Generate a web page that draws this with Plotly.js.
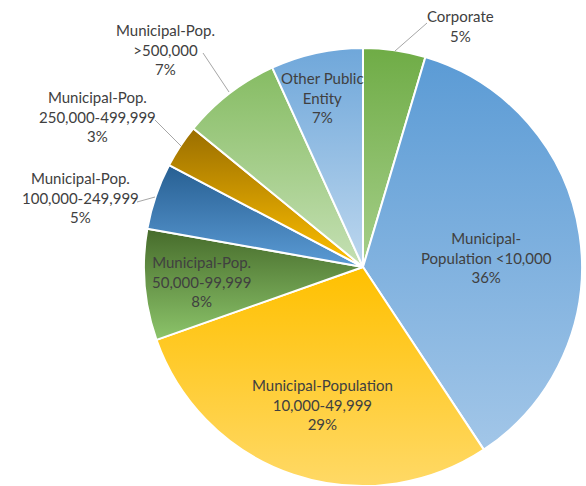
<!DOCTYPE html>
<html>
<head>
<meta charset="utf-8">
<script src="https://cdn.plot.ly/plotly-3.0.1.min.js"></script>
<style>html,body{margin:0;padding:0;background:#fff;}#chart{width:586px;height:486px;}</style>
</head>
<body>
<div id="chart"></div>
<script>
// ---- data ----
var categories = ['Corporate', 'Municipal-Population <10,000', 'Municipal-Population 10,000-49,999',
  'Municipal-Pop. 50,000-99,999', 'Municipal-Pop. 100,000-249,999', 'Municipal-Pop. 250,000-499,999',
  'Municipal-Pop. >500,000', 'Other Public Entity'];
var labelText = ['Corporate', 'Municipal-<br>Population &lt;10,000', 'Municipal-Population<br>10,000-49,999',
  'Municipal-Pop.<br>50,000-99,999', 'Municipal-Pop.<br>100,000-249,999', 'Municipal-Pop.<br>250,000-499,999',
  'Municipal-Pop.<br>&gt;500,000', 'Other Public<br>Entity'];
var values = [4.6, 36.1, 28.9, 8.2, 4.9, 3.2, 7.3, 6.8];

// ---- styles ----
var gradTop    = ['#6fac46', '#5b9bd5', '#ffc000', '#466b2b', '#275f92', '#9a6e00', '#86bc63', '#6fa7da'];
var gradBottom = ['#a6cf8a', '#a2c6e8', '#ffd966', '#8cc46a', '#5b9bd5', '#ffc000', '#c5e0b4', '#bdd7ee'];
var midColors  = ['#8bbf68', '#7fb1df', '#ffcd33', '#69984a', '#417db3', '#cd9700', '#a6ce8b', '#96bfe4'];
// label block centres (pixels) and leader lines (pixels)
var labelPos = [[460, 26], [486, 257], [322, 404], [201, 281], [80, 197], [97, 117], [165, 50], [322, 98]];
var leaders = [[427, 23, 395, 51], null, null, null, [137, 202, 155, 197], [155, 120, 181, 146], [203, 53, 229, 92], null];

var W = 586, H = 486;
var total = values.reduce(function (a, b) { return a + b; }, 0);

var annotations = categories.map(function (c, i) {
  return {
    xref: 'paper', yref: 'paper',
    x: labelPos[i][0] / W, y: 1 - labelPos[i][1] / H,
    xanchor: 'center', yanchor: 'middle',
    text: labelText[i] + '<br>' + Math.round(values[i] / total * 100) + '%',
    showarrow: false,
    font: {family: 'Lato, "Open Sans", sans-serif', size: 15, color: '#404040'}
  };
});
var shapes = [];
leaders.forEach(function (l) {
  if (!l) return;
  shapes.push({type: 'line', xref: 'paper', yref: 'paper',
    x0: l[0] / W, y0: 1 - l[1] / H, x1: l[2] / W, y1: 1 - l[3] / H,
    line: {color: '#a6a6a6', width: 1}});
});

var cx = 363, cy = 267, r = 219;
var trace = {
  type: 'pie',
  labels: categories,
  values: values,
  sort: false,
  direction: 'clockwise',
  rotation: 0,
  textinfo: 'none',
  hoverinfo: 'label+percent',
  marker: {colors: midColors, line: {color: '#ffffff', width: 2}},
  domain: {x: [(cx - r) / W, (cx + r) / W], y: [(H - cy - r) / H, (H - cy + r) / H]}
};

var layout = {
  width: W, height: H,
  margin: {l: 0, r: 0, t: 0, b: 0},
  showlegend: false,
  paper_bgcolor: '#ffffff',
  annotations: annotations,
  shapes: shapes
};

Plotly.newPlot('chart', [trace], layout, {displayModeBar: false, staticPlot: true}).then(function (gd) {
  var svg = gd.querySelector('svg.main-svg');
  var ns = 'http://www.w3.org/2000/svg';
  var defs = document.createElementNS(ns, 'defs');
  gradTop.forEach(function (t, i) {
    var g = document.createElementNS(ns, 'linearGradient');
    g.setAttribute('id', 'sliceGrad' + i);
    g.setAttribute('x1', '0'); g.setAttribute('y1', '0');
    g.setAttribute('x2', '0'); g.setAttribute('y2', '1');
    var s1 = document.createElementNS(ns, 'stop');
    s1.setAttribute('offset', '0'); s1.setAttribute('stop-color', t);
    var s2 = document.createElementNS(ns, 'stop');
    s2.setAttribute('offset', '1'); s2.setAttribute('stop-color', gradBottom[i]);
    g.appendChild(s1); g.appendChild(s2);
    defs.appendChild(g);
  });
  svg.insertBefore(defs, svg.firstChild);
  var paths = gd.querySelectorAll('g.slice path.surface');
  paths.forEach(function (p, i) {
    p.style.fill = 'url(#sliceGrad' + i + ')';
  });
});
</script>
</body>
</html>
